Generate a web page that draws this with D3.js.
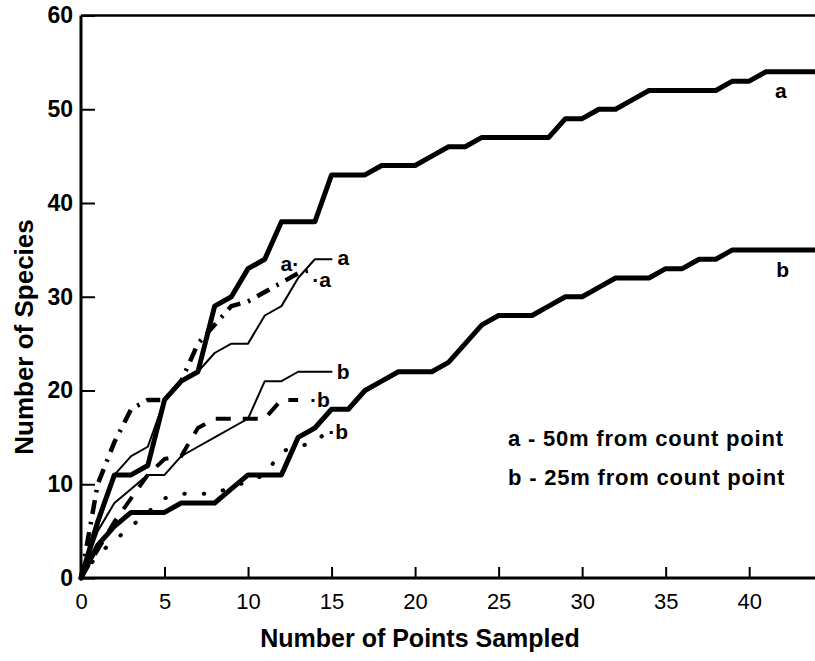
<!DOCTYPE html>
<html><head><meta charset="utf-8">
<script src="https://cdn.jsdelivr.net/npm/d3@7"></script>
<style>
body{margin:0;background:#fff;}
text{font-family:"Liberation Sans",Arial,Helvetica,sans-serif;fill:#000;}
</style></head>
<body><svg id="c" width="815" height="661"></svg>
<script>
// ---- data ----
const xTicks = [0,5,10,15,20,25,30,35,40];
const yTicks = [0,10,20,30,40,50,60];
const xLong = d3.range(0,45);
const longA = [0,6,11,11,12,19,21,22,29,30,33,34,38,38,38,43,43,43,44,44,44,45,46,46,47,47,47,47,47,49,49,50,50,51,52,52,52,52,52,53,53,54,54,54,54];
const longB = [0,3.5,5.5,7,7,7,8,8,8,9.5,11,11,11,15,16,18,18,20,21,22,22,22,23,25,27,28,28,28,29,30,30,31,32,32,32,33,33,34,34,35,35,35,35,35,35];
const xShort = d3.range(0,16);
const thinA = [0,5.5,11,13,14,19,21,22,24,25,25,28,29,32,34,34];
const thinB = [0,5,8,9.5,11,11,13,14,15,16,17,21,21,22,22,22];
const dashDotA = [0,10,14.5,18,19,19,21,25,27,29,29.5,30.5,31.5,32.5,33];
const dashedB = [0,3,6,8.5,11,12.7,13,16,17,17,17,17,19,19];
const dottedB = [0,2.5,4,5.5,7,8.5,9,9,9,9.7,10.3,11,13.5,14,14.5,16];
const curveLabels = [
  {t:"a", x:41.9, y:52.0},
  {t:"b", x:42.0, y:32.9},
  {t:"a", x:15.7, y:34.2},
  {t:"a·", x:12.5, y:33.6},
  {t:"·a", x:14.4, y:31.8},
  {t:"b", x:15.7, y:22.0},
  {t:"·b", x:14.3, y:19.0},
  {t:"·b", x:15.4, y:15.6}
];
const legendLines = ["a - 50m from count point","b - 25m from count point"];
const xTitle = "Number of Points Sampled";
const yTitle = "Number of Species";

// ---- drawing ----
const svg = d3.select("#c");
const x = d3.scaleLinear().domain([0,44]).range([81,816]);
const y = d3.scaleLinear().domain([0,60]).range([578,15.5]);

function series(xs, ys){ return ys.map((v,i)=>[xs[i],v]); }
const line = d3.line().x(d=>x(d[0])).y(d=>y(d[1]));

// frame top
svg.append("line").attr("x1",x(0)).attr("x2",815).attr("y1",y(60)).attr("y2",y(60))
  .attr("stroke","#000").attr("stroke-width",2.5);

const styles = [
  {d:series(xLong,longA), w:5, dash:null},
  {d:series(xLong,longB), w:5, dash:null},
  {d:series(xShort,thinA), w:2, dash:null},
  {d:series(xShort,thinB), w:2, dash:null},
  {d:series(xShort,dashDotA), w:4.5, dash:"14,8,2.5,8", cap:"butt"},
  {d:series(xShort,dashedB), w:4, dash:"15,12", cap:"butt"},
  {d:series(xShort,dottedB), w:4, dash:"0.5,19", cap:"round"}
];
styles.forEach(s=>{
  const p = svg.append("path").attr("d",line(s.d)).attr("fill","none")
    .attr("stroke","#000").attr("stroke-width",s.w)
    .attr("stroke-linejoin","round").attr("stroke-linecap",s.cap||"round");
  if(s.dash) p.attr("stroke-dasharray",s.dash);
});

// axes
const xAxis = d3.axisBottom(x).tickValues(xTicks).tickSize(-11).tickPadding(10).tickFormat(d3.format("d"));
const gx = svg.append("g").attr("transform",`translate(0,${y(0)})`).call(xAxis);
gx.select(".domain").attr("d",`M${x(0)},0H815`).attr("stroke-width",3);
gx.selectAll(".tick line").attr("stroke-width",2);
gx.selectAll(".tick text").attr("font-size",22).attr("dy","0.95em").attr("font-family","Liberation Sans,Arial,sans-serif").attr("fill","#000");

const yAxis = d3.axisLeft(y).tickValues(yTicks).tickSize(-14).tickPadding(8).tickFormat(d3.format("d"));
const gy = svg.append("g").attr("transform",`translate(${x(0)},0)`).call(yAxis);
gy.select(".domain").attr("d",`M0,${y(0)}V${y(60)}`).attr("stroke-width",3);
gy.selectAll(".tick line").attr("stroke-width",2);
gy.selectAll(".tick text").attr("font-size",23).attr("font-weight","bold").attr("font-family","Liberation Sans,Arial,sans-serif").attr("fill","#000");

// curve labels
svg.selectAll("text.cl").data(curveLabels).enter().append("text").attr("class","cl")
  .attr("x",d=>x(d.x)).attr("y",d=>y(d.y)).attr("text-anchor","middle")
  .attr("dominant-baseline","central").attr("font-size",21).attr("font-weight","bold").text(d=>d.t);

// legend
svg.selectAll("text.lg").data(legendLines).enter().append("text").attr("class","lg")
  .attr("x",508).attr("y",(d,i)=>446+i*39).attr("font-size",22).attr("font-weight","bold")
  .attr("letter-spacing",0.8).text(d=>d);

// titles
svg.append("text").attr("x",(x(0)+815)/2-28).attr("y",647).attr("text-anchor","middle")
  .attr("font-size",25).attr("font-weight","bold").text(xTitle);
svg.append("text").attr("transform","translate(33,337) rotate(-90)").attr("text-anchor","middle")
  .attr("font-size",26).attr("font-weight","bold").text(yTitle);
</script></body></html>
